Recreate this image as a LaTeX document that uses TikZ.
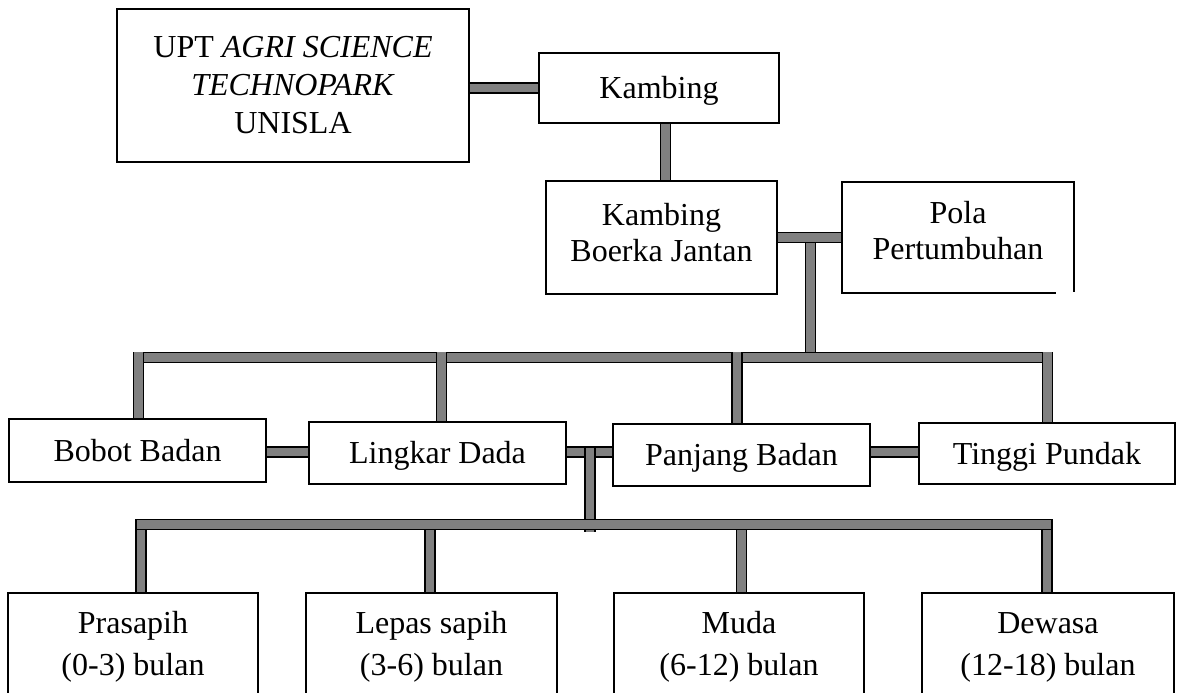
\documentclass[tikz,border=0pt]{standalone}
\usepackage{fontspec}
\setmainfont{Liberation Serif}
\usetikzlibrary{calc}
\begin{document}
\begin{tikzpicture}[x=0.75pt,y=-0.75pt,
  nbox/.style={draw=black, line width=1.1pt, fill=white, inner sep=0pt, align=center,
    font=\fontsize{24}{27.6}\selectfont},
  one/.style={text height=16pt, text depth=0pt},
  bar/.style={draw=black, line width=1.1pt, double=gray, double distance=6.2pt},
  rbar/.style={bar, line cap=rect},
  txt/.style={inner sep=0pt, align=center, font=\fontsize{24}{31.5}\selectfont}]
\clip (0,0) rectangle (1179,693);
\fill[white] (0,0) rectangle (1179,693);
% coordinates for junctions
\coordinate (kk) at (665.5,0);
\coordinate (r2) at (0,452);
\coordinate (tl) at (138.5,357.5);
\coordinate (tr) at (1047.5,357.5);
\coordinate (pv1) at (810.5,241);
\coordinate (pv2) at (810.5,362);
\coordinate (lv1) at (590,448);
\coordinate (lv2) at (590,532);
\coordinate (bl) at (141,524.5);
\coordinate (br) at (1047,524.5);
% level 1 connectors (drawn under boxes)
\draw[bar] (pv1) -- (pv2);
\draw[rbar] (tl) -- (tr);
% boxes
\node[nbox, minimum width=264pt, minimum height=114.75pt] (upt) at (293,85.5)
  {UPT \textit{AGRI SCIENCE}\\[0.9pt] \textit{TECHNOPARK}\\[0.9pt] UNISLA};
\node[nbox, one, minimum width=180pt, minimum height=52.5pt] (kamb) at (659,88) {Kambing};
\node[nbox, minimum width=173.25pt, minimum height=84.75pt] (kbj) at (661.5,237.5) {};
\node[txt, font=\fontsize{24}{27.6}\selectfont] at ($(kbj.center)+(0,-5)$) {Kambing\\Boerka Jantan};
\node[nbox, minimum width=174pt, minimum height=83.25pt] (pola) at (958,237.5) {};
\node[txt, font=\fontsize{24}{27.6}\selectfont] at ($(pola.center)+(0,-7)$) {Pola\\Pertumbuhan};
\draw[white, line width=2pt] (1056,293.5) -- (1077,293.5);
\node[nbox, one, minimum width=192.75pt, minimum height=47.25pt] (bob) at (137.5,450.5) {Bobot Badan};
\node[nbox, one, minimum width=192.75pt, minimum height=46.5pt] (ling) at (437.5,453) {Lingkar Dada};
\node[nbox, one, minimum width=192.75pt, minimum height=46.5pt] (panj) at (741.5,455) {Panjang Badan};
\node[nbox, one, minimum width=192pt, minimum height=45.75pt] (ting) at (1047,453.5) {Tinggi Pundak};
\node[nbox, minimum width=187.5pt, minimum height=82.5pt] (pras) at (133,648) {};
\node[nbox, minimum width=188.25pt, minimum height=82.5pt] (lepas) at (431.5,648) {};
\node[nbox, minimum width=187.5pt, minimum height=82.5pt] (muda) at (739,648) {};
\node[nbox, minimum width=189pt, minimum height=82.5pt] (dew) at (1048,648) {};
\node[txt] at ($(pras.north)+(0,55)$) {Prasapih\\(0-3) bulan};
\node[txt] at ($(lepas.north)+(0,55)$) {Lepas sapih\\(3-6) bulan};
\node[txt] at ($(muda.north)+(0,55)$) {Muda\\(6-12) bulan};
\node[txt] at ($(dew.north)+(0,55)$) {Dewasa\\(12-18) bulan};
% connectors
\draw[bar] (upt.east |- kamb.west) -- (kamb.west);
\draw[bar] (kamb.south -| kk) -- (kbj.north -| kk);
\draw[bar] (kbj.east) -- (pola.west);
\draw[bar] (138.5,352) -- (138.5,352 |- bob.north);
\draw[bar] (441.5,352) -- (441.5,352 |- ling.north);
\draw[bar] (737,352) -- (737,352 |- panj.north);
\draw[bar] (1047.5,352) -- (1047.5,352 |- ting.north);
\draw[bar] (bob.east |- r2) -- (ling.west |- r2);
\draw[bar] (ling.east |- r2) -- (panj.west |- r2);
\draw[bar] (panj.east |- r2) -- (ting.west |- r2);
\draw[bar] (lv1) -- (lv2);
\draw[bar] (141,524.5) -- (141,524.5 |- pras.north);
\draw[bar] (430,524.5) -- (430,524.5 |- lepas.north);
\draw[bar] (741.5,524.5) -- (741.5,524.5 |- muda.north);
\draw[bar] (1047,524.5) -- (1047,524.5 |- dew.north);
\draw[rbar] (bl) -- (br);
\end{tikzpicture}
\end{document}
